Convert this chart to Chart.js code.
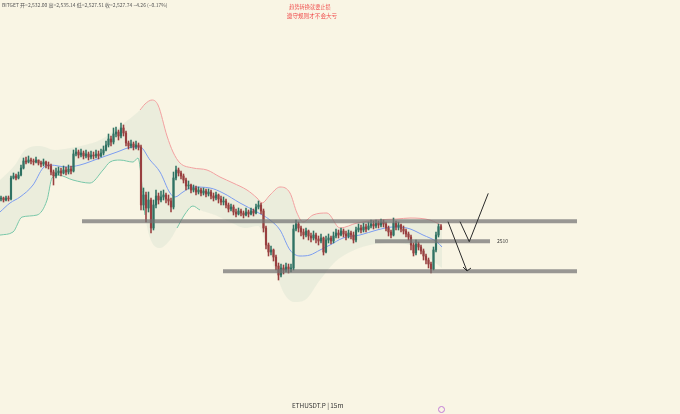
<!DOCTYPE html>
<html>
<head>
<meta charset="utf-8">
<script src="https://cdn.jsdelivr.net/npm/chart.js@4/dist/chart.umd.min.js"></script>
<style>
    html, body { margin: 0; padding: 0; background: #f9f5e4; }
    #wrap { position: relative; width: 680px; height: 414px; overflow: hidden; }
    #chart { position: absolute; left: 0; top: 0; }
    .txt { position: absolute; white-space: nowrap; font-family: "Noto Sans CJK SC", "Noto Sans", sans-serif; }
    #header { left: 2px; top: 1px; font-size: 5px; color: #555; }
    #title1 { left: 0; width: 620px; text-align: center; top: 3px; font-size: 5.2px; color: #f0504f; }
    #title2 { left: 0; width: 624px; text-align: center; top: 12px; font-size: 5.6px; color: #f0504f; }
    #footer { left: 292px; top: 401px; font-size: 6.4px; color: #333; }
    #lvlLabel { font-size: 5px; color: #333; }
    #icon { position: absolute; left: 438px; top: 406px; width: 5px; height: 5px; border: 1px solid #c27bd6; border-radius: 50%; }
</style>
</head>
<body>
<div id="wrap">
    <canvas id="chart" width="680" height="414"></canvas>
    <div class="txt" id="header">BITGET 开=2,532.00 高=2,535.14 低=2,527.51 收=2,527.74 −4.26 (−0.17%)</div>
    <div class="txt" id="title1">趋势转换就要止损</div>
    <div class="txt" id="title2">遵守规则才不会大亏</div>
    <div class="txt" id="lvlLabel">2510</div>
    <div class="txt" id="footer">ETHUSDT.P | 15m</div>
    <div id="icon"></div>
</div>
<script>
// CANDLES (15m ETHUSDT.P), open of each bar = previous close
const firstOpen = 2573.5;
const closes = [
    2575, 2572, 2575, 2573.5, 2605, 2608, 2605, 2609.5, 2620, 2630.5,
    2629, 2632, 2630.5, 2629, 2632, 2627.5, 2626, 2629, 2624.5, 2623,
    2614, 2608, 2612.5, 2615.5, 2612.5, 2617, 2614, 2618.5, 2615.5, 2641,
    2644, 2639.5, 2642.5, 2638, 2641, 2636.5, 2639.5, 2638, 2641, 2638,
    2642.5, 2647, 2654.5, 2663.5, 2659, 2671, 2674, 2668, 2680, 2672.5,
    2657.5, 2653, 2656, 2651.5, 2654.5, 2651.5, 2564.5, 2579.5, 2560, 2572,
    2530, 2564.5, 2578, 2572, 2576.5, 2579.5, 2573.5, 2570.5, 2561.5, 2605,
    2617, 2612.5, 2608, 2602, 2593, 2594.5, 2587, 2590, 2584, 2587,
    2582.5, 2585.5, 2581, 2584, 2578, 2575, 2579.5, 2573.5, 2569, 2570.5,
    2564.5, 2558.5, 2561.5, 2554, 2551, 2555.5, 2552.5, 2549.5, 2554, 2551,
    2555.5, 2552.5, 2561.5, 2564.5, 2555.5, 2530, 2504.5, 2494, 2497, 2486.5,
    2473, 2459.5, 2470, 2467, 2471.5, 2468.5, 2470, 2528.5, 2536, 2530,
    2524, 2519.5, 2525.5, 2518, 2515, 2519.5, 2513.5, 2510.5, 2515, 2494,
    2512, 2515, 2510.5, 2518, 2522.5, 2519.5, 2525.5, 2521, 2518, 2522.5,
    2519.5, 2512, 2527, 2530, 2527, 2531.5, 2528.5, 2533, 2536, 2533,
    2537.5, 2534.5, 2539, 2536, 2530, 2524, 2519.5, 2537.5, 2531.5, 2534.5,
    2528.5, 2525.5, 2521, 2516.5, 2504.5, 2492.5, 2506, 2501.5, 2495.5, 2488,
    2482, 2476, 2468.5, 2497, 2519.5, 2532, 2527.74
];
const highs = [
    2578, 2576.5, 2578, 2578, 2608, 2612.5, 2611, 2614, 2624.5, 2635,
    2636.5, 2638, 2635, 2633.5, 2636.5, 2632, 2630.5, 2633.5, 2630.5, 2629,
    2626, 2617, 2620, 2621.5, 2620, 2623, 2621.5, 2624.5, 2623, 2647,
    2650, 2647, 2648.5, 2645.5, 2647, 2644, 2645.5, 2644, 2647, 2645.5,
    2648.5, 2653, 2660.5, 2671, 2668, 2680, 2681.5, 2677, 2687.5, 2684.5,
    2675.5, 2660.5, 2662, 2659, 2660.5, 2657.5, 2654.5, 2590, 2584, 2584,
    2575, 2572, 2587, 2582.5, 2585.5, 2587, 2582.5, 2579.5, 2575, 2614,
    2623, 2620, 2615.5, 2611, 2605, 2600.5, 2596, 2594.5, 2593, 2591.5,
    2590, 2590, 2588.5, 2588.5, 2587, 2582.5, 2584, 2581, 2578, 2576.5,
    2573.5, 2567.5, 2566, 2564.5, 2558.5, 2560, 2558.5, 2555.5, 2560, 2557,
    2560, 2558.5, 2566, 2570.5, 2567.5, 2558.5, 2533, 2507.5, 2503, 2498.5,
    2489.5, 2477.5, 2476, 2474.5, 2477.5, 2476, 2476, 2534.5, 2542, 2539,
    2533, 2528.5, 2530, 2527, 2522.5, 2525.5, 2522.5, 2518, 2521, 2516.5,
    2518, 2521, 2518, 2524, 2528.5, 2527, 2530, 2528.5, 2525.5, 2527,
    2525.5, 2524, 2531.5, 2536, 2534.5, 2537.5, 2536, 2539, 2542, 2540.5,
    2542, 2540.5, 2543.5, 2542, 2539, 2533, 2527, 2545, 2540.5, 2539,
    2536, 2533, 2528.5, 2524, 2519.5, 2507.5, 2512, 2509, 2504.5, 2498.5,
    2491, 2485, 2479, 2501.5, 2524, 2536, 2535.14
];
const lows = [
    2570.5, 2569, 2570.5, 2570.5, 2572, 2603.5, 2602, 2603.5, 2608, 2618.5,
    2626, 2627.5, 2626, 2624.5, 2627.5, 2624.5, 2621.5, 2623, 2620, 2618.5,
    2609.5, 2594.5, 2605, 2609.5, 2608, 2611, 2609.5, 2611, 2611, 2614,
    2638, 2635, 2636.5, 2633.5, 2635, 2632, 2633.5, 2633.5, 2635, 2633.5,
    2636.5, 2639.5, 2645.5, 2651.5, 2653, 2656, 2666.5, 2662, 2665, 2668,
    2653, 2648.5, 2650, 2647, 2648.5, 2647, 2557, 2557, 2539, 2554,
    2522.5, 2527, 2560, 2566, 2569, 2572, 2567.5, 2564.5, 2554, 2558.5,
    2602, 2608, 2603.5, 2597.5, 2587, 2588.5, 2582.5, 2584, 2579.5, 2581,
    2578, 2579.5, 2576.5, 2578, 2573.5, 2570.5, 2572, 2567.5, 2564.5, 2564.5,
    2560, 2554, 2555.5, 2549.5, 2546.5, 2549.5, 2548, 2545, 2548, 2546.5,
    2549.5, 2548, 2551, 2558.5, 2551, 2524, 2498.5, 2488, 2489.5, 2480.5,
    2467, 2452, 2456.5, 2461, 2464, 2462.5, 2464, 2467, 2525.5, 2524,
    2518, 2513.5, 2516.5, 2512, 2509, 2512, 2507.5, 2504.5, 2507.5, 2489.5,
    2492.5, 2507.5, 2506, 2507.5, 2515, 2515, 2518, 2516.5, 2512, 2515,
    2513.5, 2507.5, 2509, 2524, 2522.5, 2524, 2524, 2527, 2530, 2528.5,
    2530, 2530, 2531.5, 2531.5, 2525.5, 2518, 2515, 2518, 2527, 2527,
    2524, 2521, 2516.5, 2512, 2497, 2488, 2489.5, 2497, 2491, 2482,
    2476, 2470, 2462.5, 2467, 2494, 2516.5, 2527.51
];

// BOLLINGER BANDS (bar index, price)
const upperX = [-0.4, 5.6, 9.6, 15.6, 21.6, 27.6, 33.6, 39.6, 45.6, 50.8, 55.6, 57.6, 60.4, 62.8, 66.4, 68.8, 71.6, 76.8, 82.4, 87.6, 92.8, 98.4, 102.4, 104.4, 107.6, 111.6, 115.6, 118.4, 120.8, 124.8, 130.4, 135.6, 142.4, 150.4, 158.4, 163.6, 171.6, 174.4, 176.4];
const upperY = [2602, 2624.5, 2647, 2653, 2647, 2650, 2654.5, 2662, 2677, 2692, 2707, 2716, 2722, 2714.5, 2668, 2644, 2627.5, 2620, 2617, 2606.5, 2597.5, 2587, 2575, 2567.5, 2579.5, 2591.5, 2582.5, 2552.5, 2539, 2549.5, 2552.5, 2530, 2537.5, 2542, 2543.5, 2545, 2542, 2537.5, 2533];
const lowerX = [-0.4, 4.8, 8.4, 14.4, 18.4, 20.4, 22.8, 28.8, 35.6, 40.8, 43.6, 47.6, 52.8, 54.8, 57.6, 59.6, 63.6, 67.6, 70.4, 73.6, 76.8, 79.6, 85.6, 91.6, 97.6, 102.8, 105.6, 109.6, 113.6, 117.6, 121.6, 127.6, 133.6, 139.6, 147.6, 155.6, 163.6, 169.6, 176.4];
const lowerY = [2519.5, 2524, 2546.5, 2549.5, 2572, 2605, 2609.5, 2602, 2597.5, 2617, 2629, 2632, 2629, 2635, 2549.5, 2515, 2500, 2512, 2530, 2551, 2563, 2557, 2549.5, 2539, 2530, 2533, 2512, 2467, 2429.5, 2419, 2422, 2452, 2479, 2494, 2504.5, 2507.5, 2504.5, 2489.5, 2470];
const middleX = [-0.4, 3.6, 7.6, 12.8, 16.8, 19.6, 26.4, 31.6, 39.6, 46.4, 52.8, 55.6, 59.6, 63.6, 67.6, 69.6, 72.8, 76.8, 83.6, 88.8, 95.6, 102.4, 107.6, 111.6, 115.6, 119.6, 123.6, 127.6, 131.6, 136.8, 143.6, 150.4, 156.8, 162.4, 168.8, 174.4, 176.4];
const middleY = [2554, 2567.5, 2576.5, 2594.5, 2620, 2624.5, 2621.5, 2624.5, 2635, 2644, 2651.5, 2651.5, 2632, 2614, 2582.5, 2576.5, 2584, 2591.5, 2590, 2582.5, 2567.5, 2554, 2542, 2527, 2497, 2488, 2489.5, 2497, 2504.5, 2515, 2519.5, 2527, 2531.5, 2530, 2519.5, 2509, 2501.5];

// DRAWN LEVELS AND ARROWS
const levelPrices = [2540, 2510, 2465];
const levelFrom = [32.4, 149.6, 88.8];
const levelTo = [230.4, 195.6, 230.4];
const downArrow = [[178.8, 2539.5], [186.4, 2465.5]];
const downArrowHead = [[184.8, 2471.5], [186.4, 2465.5], [188, 2470]];
const bounceLine = [[183.6, 2539.5], [187.3, 2509.5], [194.9, 2582]];

const UP = '#2f7263';
const DOWN = '#983f3f';

const opens = [firstOpen].concat(closes.slice(0, -1));
const isUp = i => closes[i] >= opens[i];
const candleColor = ctx => isUp(ctx.dataIndex) ? UP : DOWN;

const wickData = closes.map((c, i) => ({
    x: i,
    y: [Math.min(lows[i], opens[i], c), Math.max(highs[i], opens[i], c)]
}));
const bodyData = closes.map((c, i) => ({ x: i, y: [opens[i], c] }));

const toPoints = (xs, ys) => xs.map((x, i) => ({ x: x, y: ys[i] }));
const pairs = arr => arr.map(p => ({ x: p[0], y: p[1] }));

const lineBase = { type: 'line', pointRadius: 0, borderWidth: 1, fill: false };

const datasets = [
    {
        ...lineBase, data: toPoints(upperX, upperY), order: 10,
        cubicInterpolationMode: 'monotone',
        fill: '+1', backgroundColor: 'rgba(200,218,200,0.27)',
        borderColor: '#f2a0a0',
        segment: { borderColor: ctx => ctx.p0.parsed.x < 55 ? 'rgba(0,0,0,0)' : '#f2a0a0' }
    },
    {
        ...lineBase, data: toPoints(lowerX, lowerY), order: 10,
        cubicInterpolationMode: 'monotone',
        borderColor: '#6cc4a4',
        segment: {
            borderColor: ctx => {
                const x = ctx.p0.parsed.x;
                return (x < 55 || (x >= 70 && x < 77)) ? '#6cc4a4' : 'rgba(0,0,0,0)';
            }
        }
    },
    {
        ...lineBase, data: toPoints(middleX, middleY), order: 9,
        cubicInterpolationMode: 'monotone', borderColor: '#7b9cf0'
    },
    {
        type: 'bar', data: wickData, order: 3, grouped: false,
        barThickness: 0.9, backgroundColor: candleColor
    },
    {
        type: 'bar', data: bodyData, order: 2, grouped: false,
        barThickness: 1.5, minBarLength: 1, backgroundColor: candleColor
    }
];

levelPrices.forEach((p, k) => {
    datasets.push({
        ...lineBase, order: 1, borderWidth: 4, borderCapStyle: 'butt',
        borderColor: 'rgba(115,115,115,0.72)',
        data: [{ x: levelFrom[k], y: p }, { x: levelTo[k], y: p }]
    });
});

[downArrow, downArrowHead, bounceLine].forEach(path => {
    datasets.push({
        ...lineBase, order: 0, borderColor: '#2a2a2a', borderWidth: 1,
        data: pairs(path)
    });
});

// put the 2510 label at the end of the middle level line
const labelPlugin = {
    id: 'levelLabel',
    afterDraw(chart) {
        const el = document.getElementById('lvlLabel');
        const px = chart.scales.x.getPixelForValue(levelTo[1]);
        const py = chart.scales.y.getPixelForValue(levelPrices[1]);
        el.style.left = (px + 7) + 'px';
        el.style.top = (py - 4) + 'px';
    }
};

new Chart(document.getElementById('chart'), {
    type: 'bar',
    data: { datasets: datasets },
    plugins: [labelPlugin],
    options: {
        responsive: false,
        animation: false,
        events: [],
        layout: { padding: 0 },
        plugins: {
            legend: { display: false },
            tooltip: { enabled: false }
        },
        scales: {
            x: { type: 'linear', min: -0.4, max: 271.6, offset: false, display: false },
            y: { type: 'linear', min: 2251, max: 2872, display: false }
        }
    }
});
</script>
</body>
</html>
